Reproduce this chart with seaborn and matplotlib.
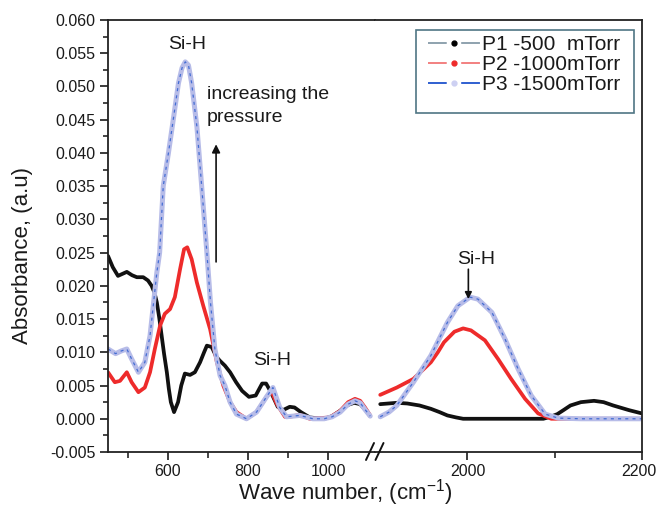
import numpy as np
import pandas as pd
import matplotlib
matplotlib.use("Agg")
import matplotlib.pyplot as plt
import matplotlib.patches as mpatches
import matplotlib.transforms as mtrans
import seaborn as sns
from matplotlib.lines import Line2D
from matplotlib.ticker import MultipleLocator, FixedLocator

# ---------------- data ----------------
p1_left_x = [450, 462, 475, 486, 497, 510, 522, 538, 550, 559, 566, 572, 578, 584, 590, 597, 602, 607,
             615, 625, 633, 642, 655, 667, 680, 690, 697, 709, 721, 730, 742, 755, 770, 785, 802, 819,
             835, 845, 857, 874, 887, 904, 916, 932, 954, 970, 991, 1010, 1030, 1050, 1065, 1080, 1095, 1105]
p1_left_y = [0.0245, 0.0228, 0.0215, 0.0218, 0.0221, 0.0216, 0.0213, 0.0213, 0.0208, 0.0200, 0.0190,
             0.0175, 0.0152, 0.0125, 0.0098, 0.0070, 0.0045, 0.0025, 0.0010, 0.0025, 0.0050, 0.0068,
             0.0066, 0.0070, 0.0085, 0.0100, 0.0110, 0.0108, 0.0093, 0.0087, 0.0080, 0.0070, 0.0055,
             0.0042, 0.0033, 0.0035, 0.0053, 0.0053, 0.0040, 0.0018, 0.0013, 0.0018, 0.0017, 0.0010,
             0.0002, 0.0001, 0.0000, 0.0004, 0.0012, 0.0021, 0.0024, 0.0022, 0.0012, 0.0004]
p1_right_x = [1900, 1919, 1931, 1945, 1958, 1968, 1977, 1987, 1995, 2034, 2087, 2095, 2103, 2110, 2118,
              2130, 2145, 2156, 2167, 2185, 2200]
p1_right_y = [0.0022, 0.0024, 0.0023, 0.0020, 0.0015, 0.0010, 0.0005, 0.0002, 0.0000, 0.0000, 0.0000,
              0.0003, 0.0007, 0.0013, 0.0020, 0.0025, 0.0027, 0.0025, 0.0020, 0.0013, 0.0008]

p2_left_x = [450, 467, 480, 497, 509, 526, 542, 555, 567, 580, 592, 605, 617, 630, 640, 648, 659, 672,
             688, 705, 722, 738, 755, 771, 796, 821, 846, 858, 871, 892, 904, 929, 954, 980, 1004, 1030,
             1050, 1067, 1080, 1092, 1105]
p2_left_y = [0.0070, 0.0055, 0.0057, 0.0070, 0.0055, 0.0040, 0.0047, 0.0070, 0.0105, 0.0140, 0.0158,
             0.0165, 0.0183, 0.0225, 0.0255, 0.0258, 0.0240, 0.0205, 0.0170, 0.0135, 0.0085, 0.0050,
             0.0025, 0.0010, 0.0000, 0.0010, 0.0033, 0.0042, 0.0023, 0.0003, 0.0003, 0.0006, 0.0000,
             0.0001, 0.0002, 0.0012, 0.0025, 0.0030, 0.0027, 0.0017, 0.0005]
p2_right_x = [1900, 1919, 1938, 1958, 1966, 1973, 1985, 1995, 2004, 2020, 2035, 2050, 2066, 2081, 2096,
              2120, 2160, 2200]
p2_right_y = [0.0036, 0.0047, 0.0060, 0.0085, 0.0100, 0.0115, 0.0131, 0.0136, 0.0133, 0.0118, 0.0090,
              0.0060, 0.0030, 0.0008, 0.0000, 0.0000, 0.0000, 0.0000]

p3_left_x = [450, 469, 483, 497, 509, 526, 542, 555, 563, 572, 579, 588, 601, 613, 626, 635, 643, 651,
             659, 672, 684, 697, 706, 717, 730, 742, 755, 771, 796, 821, 846, 862, 879, 896, 929, 962,
             990, 1010, 1030, 1050, 1067, 1080, 1092, 1105]
p3_left_y = [0.0105, 0.0098, 0.0102, 0.0105, 0.0090, 0.0070, 0.0085, 0.0125, 0.0170, 0.0220, 0.0250,
             0.0350, 0.0400, 0.0450, 0.0505, 0.0528, 0.0537, 0.0532, 0.0505, 0.0440, 0.0350, 0.0250,
             0.0175, 0.0105, 0.0065, 0.0050, 0.0025, 0.0007, 0.0000, 0.0010, 0.0033, 0.0047, 0.0017,
             0.0003, 0.0005, 0.0000, 0.0000, 0.0003, 0.0010, 0.0022, 0.0027, 0.0024, 0.0014, 0.0004]
p3_right_x = [1900, 1910, 1919, 1938, 1958, 1977, 1989, 2003, 2012, 2028, 2043, 2058, 2073, 2089, 2104,
              2130, 2160, 2200]
p3_right_y = [0.0003, 0.0010, 0.0020, 0.0055, 0.0095, 0.0145, 0.0170, 0.0183, 0.0180, 0.0160, 0.0120,
              0.0075, 0.0035, 0.0007, 0.0001, 0.0000, 0.0000, 0.0000]

series_labels = ["P1 -500  mTorr", "P2 -1000mTorr", "P3 -1500mTorr"]
left_xticks = [600, 800, 1000]
left_xminor = [500, 700, 900]
right_xticks = [2000, 2200]
right_xminor = [2100]
yticks = [-0.005, 0.000, 0.005, 0.010, 0.015, 0.020, 0.025, 0.030, 0.035, 0.040, 0.045, 0.050, 0.055, 0.060]

# ---------------- style ----------------
sns.set_theme(style="ticks")
plt.rcParams["font.family"] = ["Liberation Sans", "DejaVu Sans"]
plt.rcParams["lines.scale_dashes"] = False
plt.rcParams["mathtext.fontset"] = "custom"
plt.rcParams["mathtext.rm"] = "Liberation Sans"
plt.rcParams["mathtext.it"] = "Liberation Sans"

TXT = "#1a1a1a"
BLACK = "#111111"
RED = "#ee2b2b"
LAV = "#b7bce8"
BLUE = "#2f5fd0"

fig = plt.figure(figsize=(6.58, 5.12), dpi=100)
L, R, T, B = 108 / 658, 642 / 658, 1 - 20 / 512, 1 - 452 / 512
mid = 375 / 658
ax1 = fig.add_axes([L, B, mid - L, T - B])
ax2 = fig.add_axes([mid, B, R - mid, T - B], sharey=ax1)


def draw(ax, x, y, kind):
    df = pd.DataFrame({"x": x, "y": y})
    if kind == "p1":
        sns.lineplot(data=df, x="x", y="y", ax=ax, color=BLACK, lw=2.7, sort=False, estimator=None)
    elif kind == "p2":
        sns.lineplot(data=df, x="x", y="y", ax=ax, color=RED, lw=2.7, sort=False, estimator=None)
    else:
        sns.lineplot(data=df, x="x", y="y", ax=ax, color=LAV, lw=3.6, sort=False, estimator=None)
        sns.lineplot(data=df, x="x", y="y", ax=ax, color=BLUE, lw=0.9, sort=False, estimator=None,
                     linestyle=(0, (2.2, 3.0)), alpha=0.85)


for ax, parts in [(ax1, [(p1_left_x, p1_left_y, "p1"), (p2_left_x, p2_left_y, "p2"), (p3_left_x, p3_left_y, "p3")]),
                  (ax2, [(p1_right_x, p1_right_y, "p1"), (p2_right_x, p2_right_y, "p2"), (p3_right_x, p3_right_y, "p3")])]:
    for x, y, k in parts:
        draw(ax, x, y, k)

ax1.set_xlim(450, 1117)
ax2.set_xlim(1894, 2200)
ax1.set_ylim(-0.005, 0.060)

for ax in (ax1, ax2):
    ax.set_xlabel("")
    ax.set_ylabel("")
    for s in ax.spines.values():
        s.set_linewidth(1.3)
        s.set_color("#222222")
ax1.spines["right"].set_visible(False)
ax2.spines["left"].set_visible(False)

ax1.set_yticks(yticks)
ax1.set_yticklabels([f"{v:.3f}" for v in yticks])
ax1.yaxis.set_minor_locator(MultipleLocator(0.0025))
ax1.set_xticks(left_xticks)
ax1.xaxis.set_minor_locator(FixedLocator(left_xminor))
ax2.set_xticks(right_xticks)
ax2.xaxis.set_minor_locator(FixedLocator(right_xminor))
ax2.tick_params(axis="y", which="both", left=False, right=False, labelleft=False)

for ax in (ax1, ax2):
    ax.tick_params(axis="x", which="major", direction="out", length=5.5, width=1.2, labelsize=11.5,
                   colors=TXT, pad=3)
    ax.tick_params(axis="x", which="minor", direction="out", length=4.5, width=1.2)
ax1.tick_params(axis="y", which="major", direction="out", length=6, width=1.2, labelsize=11.5,
                colors=TXT, pad=3)
ax1.tick_params(axis="y", which="minor", direction="out", length=3.5, width=1.2)

# nudge the last x tick label so it stays inside the figure
fig.canvas.draw()
lab = ax2.get_xticklabels()[-1]
lab.set_transform(lab.get_transform() + mtrans.ScaledTranslation(-3 / 100, 0, fig.dpi_scale_trans))

# axis labels
ax1.set_ylabel("Absorbance, (a.u)", fontsize=16, color=TXT)
ax1.yaxis.set_label_coords(-0.281, 0.455)
fig.text(345 / 658, 1 - 493 / 512, "Wave number, (cm$^{-1}$)", ha="center", va="center",
         fontsize=16, color=TXT)

# axis break marks
for x0 in (366, 375.5):
    fig.add_artist(Line2D([x0 / 658, (x0 + 8) / 658], [1 - 460 / 512, 1 - 443 / 512],
                          transform=fig.transFigure, color="#111111", lw=1.4))

# annotations
ax1.text(647, 0.0563, "Si-H", ha="center", va="center", fontsize=14, color=TXT)
ax1.text(697, 0.0500, "increasing the\npressure", ha="left", va="top", fontsize=14, color=TXT,
         linespacing=1.45)
ax1.annotate("", xy=(720, 0.0413), xytext=(720, 0.0236),
             arrowprops=dict(arrowstyle="-|>", color="#111111", lw=1.2, mutation_scale=12,
                             shrinkA=0, shrinkB=0))
ax1.text(861, 0.0087, "Si-H", ha="center", va="center", fontsize=14, color=TXT)
ax2.text(2010, 0.0240, "Si-H", ha="center", va="center", fontsize=14, color=TXT)
ax2.annotate("", xy=(2001, 0.0180), xytext=(2001, 0.0225),
             arrowprops=dict(arrowstyle="-|>", color="#111111", lw=1.2, mutation_scale=10,
                             shrinkA=0, shrinkB=0))

# legend (handles: dash - dot - dash)
dash = (0, (13.5, 10.4, 13.5, 50))
handles = []
for lc, mc in [("#8ea2ae", "#000000"), ("#f28080", RED), (BLUE, "#cdd0f2")]:
    handles.append(Line2D([], [], color=lc, lw=1.4, linestyle=dash, marker="o", markersize=3.5,
                          markerfacecolor=mc, markeredgecolor=mc))
leg = ax2.legend(handles, series_labels, loc="upper left",
                 bbox_to_anchor=(428 / 658, 1 - 35 / 512), bbox_transform=fig.transFigure,
                 frameon=False, fontsize=15, handlelength=2.49, handletextpad=0.12,
                 borderpad=0, labelspacing=0.05, borderaxespad=0, numpoints=1)
for t in leg.get_texts():
    t.set_color(TXT)
fig.add_artist(mpatches.Rectangle((416 / 658, 1 - 113 / 512), (634 - 416) / 658, 83 / 512,
                                  transform=fig.transFigure, fill=False, edgecolor="#4f7684", lw=1.2))

fig.savefig("out.png", dpi=100, facecolor="white")
